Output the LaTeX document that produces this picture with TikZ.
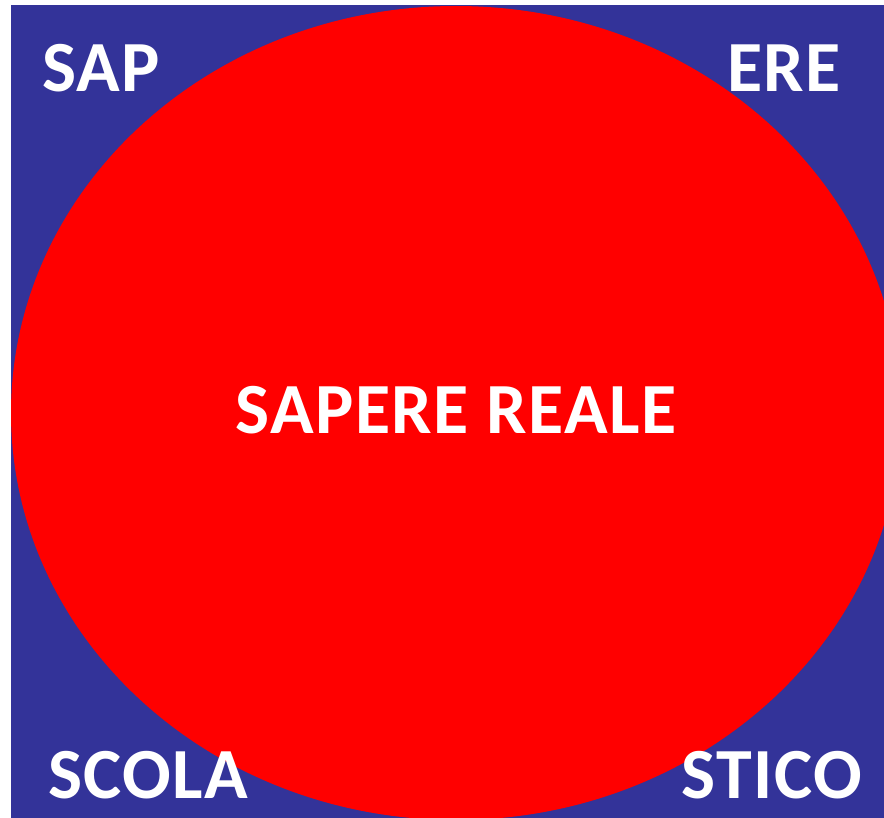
\documentclass[tikz,border=0pt]{standalone}
\usepackage{fontspec}
\setmainfont{Carlito}[LetterSpace=2]
\definecolor{myblue}{RGB}{51,51,153}
\definecolor{myred}{RGB}{255,0,0}

\begin{document}
\begin{tikzpicture}
			[x=1pt,y=-1pt, every node/.style={text=white,inner sep=0pt,font=\bfseries\fontsize{72}{84}\selectfont}]
			\useasboundingbox (0,0) rectangle (884,818);
			\fill[myblue] (11,5) rectangle (884,818);
			\fill[myred] (456,413) ellipse [x radius=445, y radius=407];
			
			\node[anchor=base west] (sap) at (42,92) {SAP};
			\node[anchor=base east] (ere) at (841,92) {ERE};
			\node[anchor=base west] (scola) at (48,798) {SCOLA};
			\node[anchor=base east] (stico) at (862,798) {STICO};
			\node[anchor=base] (reale) at (456,433) {SAPERE REALE};
			\end{tikzpicture}
\end{document}
